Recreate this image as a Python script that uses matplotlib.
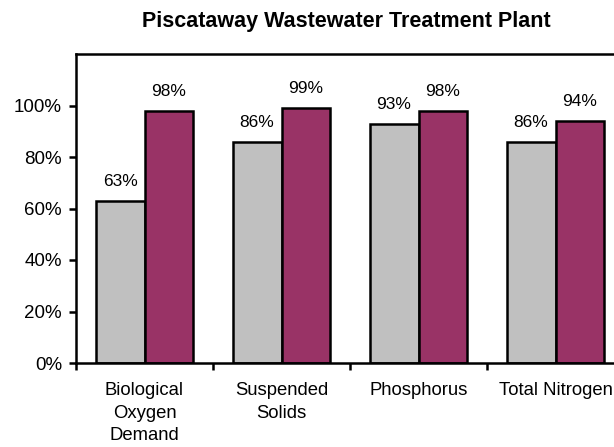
import matplotlib
matplotlib.use("Agg")
import matplotlib.pyplot as plt
import numpy as np
from matplotlib.ticker import FixedLocator, PercentFormatter

categories = ["Biological\nOxygen\nDemand", "Suspended\nSolids", "Phosphorus", "Total Nitrogen"]
before = [63, 86, 93, 86]
after = [98, 99, 98, 94]

plt.rcParams['font.family'] = ['Liberation Sans', 'DejaVu Sans']

fig = plt.figure(figsize=(6.14, 4.47), dpi=100)
ax = fig.add_axes([76 / 614, 1 - 363 / 447, 548 / 614, 309 / 447])

x = np.arange(len(categories))
w = 0.357
b1 = ax.bar(x - w / 2, before, w, color="#C0C0C0", edgecolor="black", linewidth=1.8)
b2 = ax.bar(x + w / 2, after, w, color="#993366", edgecolor="black", linewidth=1.8)

for bars in (b1, b2):
    for r in bars:
        ax.annotate("%d%%" % r.get_height(), (r.get_x() + r.get_width() / 2, r.get_height()),
                    xytext=(0, 8.5), textcoords="offset points", ha="center", va="bottom", fontsize=12.5)

ax.set_xlim(-0.5, len(categories) - 0.5)
ax.set_ylim(0, 120)
ax.yaxis.set_major_locator(FixedLocator([0, 20, 40, 60, 80, 100]))
ax.yaxis.set_major_formatter(PercentFormatter(decimals=0))
ax.set_xticks(x)
ax.set_xticklabels(categories, fontsize=13.3, linespacing=1.42)
ax.set_xticks(np.arange(-0.5, len(categories)), minor=True)
ax.tick_params(axis="x", which="major", length=0, pad=14)
ax.tick_params(axis="x", which="minor", length=5, width=1.8)
ax.tick_params(axis="y", length=5, width=1.8, labelsize=13.5, pad=5)
for s in ax.spines.values():
    s.set_linewidth(1.8)

fig.text(346 / 614, 1 - 22 / 447, "Piscataway Wastewater Treatment Plant",
         ha="center", va="center", fontsize=15.5, fontweight="bold")

fig.savefig("out.png", dpi=100)
